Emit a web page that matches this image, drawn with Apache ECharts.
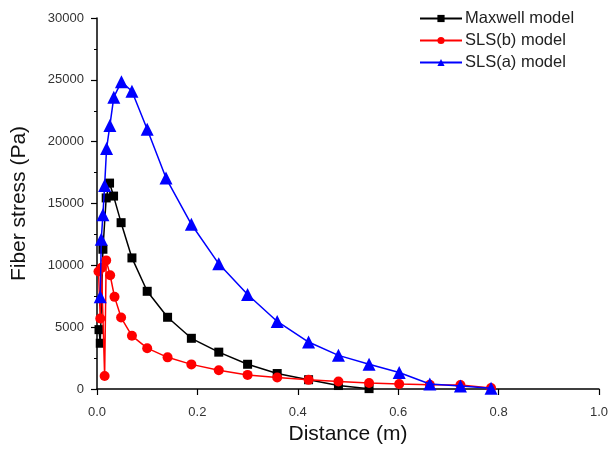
<!DOCTYPE html>
<html>
<head>
<meta charset="utf-8">
<script src="https://cdn.jsdelivr.net/npm/echarts@6/dist/echarts.min.js"></script>
<style>html,body{margin:0;padding:0;background:#fff}#c{width:611px;height:450px}</style>
</head>
<body>
<div id="c"></div>
<script>
var seriesNames = ['Maxwell model', 'SLS(b) model', 'SLS(a) model'];
var xTickLabels = ['0.0', '0.2', '0.4', '0.6', '0.8', '1.0'];
var yTickLabels = ['0', '5000', '10000', '15000', '20000', '25000', '30000'];

var maxwellX = [0.004, 0.0065, 0.0118, 0.0183, 0.025, 0.033, 0.048, 0.0696, 0.100, 0.1406, 0.188, 0.2426, 0.300, 0.359, 0.4215, 0.481, 0.542];
var maxwellY = [4800, 3700, 11300, 15450, 16650, 15600, 13450, 10600, 7900, 5800, 4100, 2980, 2000, 1250, 750, 280, 30];

var slsbX = [0.003, 0.0065, 0.009, 0.0152, 0.0183, 0.0262, 0.0349, 0.048, 0.0696, 0.100, 0.1406, 0.188, 0.2426, 0.300, 0.359, 0.4215, 0.481, 0.542, 0.602, 0.663, 0.724, 0.785];
var slsbY = [9500, 5700, 9800, 1050, 10400, 9200, 7450, 5780, 4300, 3300, 2560, 1990, 1520, 1140, 930, 740, 610, 480, 400, 350, 330, 80];

var slsaX = [0.0065, 0.0085, 0.0118, 0.0152, 0.0191, 0.0256, 0.0335, 0.0487, 0.0696, 0.100, 0.1375, 0.188, 0.2426, 0.300, 0.359, 0.4215, 0.481, 0.542, 0.602, 0.663, 0.724, 0.785];
var slsaY = [7450, 12100, 14100, 16450, 19450, 21300, 23600, 24850, 24080, 21000, 17060, 13320, 10120, 7640, 5460, 3800, 2720, 2000, 1330, 400, 250, 60];

function pairs(xs, ys) { return xs.map(function (x, i) { return [x, ys[i]]; }); }

var FONT = 'Liberation Sans, Arial, sans-serif';
var chart = echarts.init(document.getElementById('c'));
var axisColor = '#000';
var labelColor = '#333';
chart.setOption({
  animation: false,
  backgroundColor: '#fff',
  textStyle: { fontFamily: FONT },
  grid: { left: 97, right: 7, top: 18, bottom: 57, containLabel: false },
  legend: {
    orient: 'vertical',
    left: 414,
    top: 5,
    itemGap: 5,
    itemWidth: 42,
    itemHeight: 9,
    data: seriesNames,
    textStyle: { fontSize: 16.5, color: '#222', fontFamily: FONT, padding: [0, 0, 0, -2] }
  },
  xAxis: {
    type: 'value',
    min: 0, max: 1, interval: 0.2,
    name: 'Distance (m)',
    nameLocation: 'middle',
    nameGap: 35,
    nameTextStyle: { fontSize: 21, color: '#111', fontFamily: FONT },
    axisLine: { lineStyle: { color: axisColor, width: 1.5 } },
    axisTick: { inside: false, length: 6, lineStyle: { color: axisColor, width: 1.2 } },
    splitLine: { show: false },
    axisLabel: {
      fontSize: 13, color: labelColor, margin: 17,
      formatter: function (v) { return xTickLabels[Math.round(v / 0.2)]; }
    }
  },
  yAxis: {
    type: 'value',
    min: 0, max: 30000, interval: 5000,
    name: 'Fiber stress (Pa)',
    nameLocation: 'middle',
    nameGap: 67,
    nameTextStyle: { fontSize: 21, color: '#111', fontFamily: FONT },
    axisLine: { show: true, lineStyle: { color: axisColor, width: 1.5 } },
    axisTick: { show: true, inside: false, length: 6, lineStyle: { color: axisColor, width: 1.2 } },
    minorTick: { show: true, splitNumber: 2, length: 3, lineStyle: { color: axisColor, width: 1 } },
    splitLine: { show: false },
    axisLabel: {
      fontSize: 13, color: labelColor, margin: 13,
      formatter: function (v) { return yTickLabels[Math.round(v / 5000)]; }
    }
  },
  series: [
    {
      name: seriesNames[0], type: 'line', data: pairs(maxwellX, maxwellY),
      symbol: 'rect', symbolSize: 9, clip: false, z: 2,
      itemStyle: { color: '#000' }, lineStyle: { color: '#000', width: 1.5 }
    },
    {
      name: seriesNames[1], type: 'line', data: pairs(slsbX, slsbY),
      symbol: 'circle', symbolSize: 10, clip: false, z: 3,
      itemStyle: { color: '#ff0000' }, lineStyle: { color: '#ff0000', width: 1.5 }
    },
    {
      name: seriesNames[2], type: 'line', data: pairs(slsaX, slsaY),
      symbol: 'triangle', symbolSize: 13, clip: false, z: 4,
      itemStyle: { color: '#0000ff' }, lineStyle: { color: '#0000ff', width: 1.5 }
    }
  ]
});
</script>
</body>
</html>
